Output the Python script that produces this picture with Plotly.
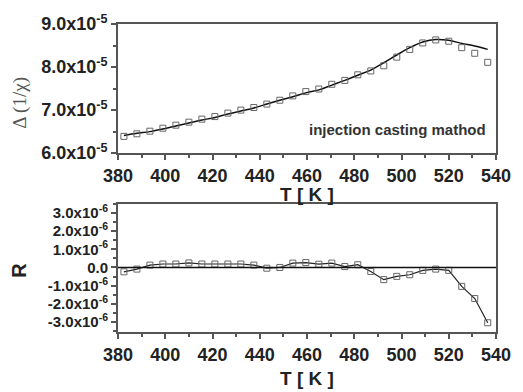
import plotly.graph_objects as go

T = [382.5, 388.0, 393.5, 399.0, 404.5, 410.0, 415.5, 421.0, 426.5, 432.0,
     437.5, 443.0, 448.5, 454.0, 459.5, 465.0, 470.5, 476.0, 481.5, 487.0,
     492.5, 498.0, 503.5, 509.0, 514.5, 520.0, 525.5, 531.0, 536.5]

# Delta(1/chi) data, units of 1e-5
inv_chi = [6.39, 6.45, 6.51, 6.58, 6.65, 6.72, 6.79, 6.85, 6.93, 7.00,
           7.06, 7.14, 7.23, 7.33, 7.43, 7.49, 7.60, 7.69, 7.82, 7.91,
           8.03, 8.23, 8.41, 8.56, 8.63, 8.60, 8.45, 8.32, 8.11]
# fit curve, units of 1e-5
fit = [6.41, 6.46, 6.50, 6.56, 6.63, 6.70, 6.77, 6.83, 6.91, 6.98,
       7.05, 7.14, 7.23, 7.31, 7.40, 7.47, 7.58, 7.69, 7.81, 7.93,
       8.10, 8.28, 8.45, 8.58, 8.64, 8.62, 8.55, 8.49, 8.41]
# residual R, units of 1e-6
resid = [-0.24, -0.09, 0.13, 0.19, 0.19, 0.25, 0.19, 0.19, 0.19, 0.19,
         0.13, -0.04, 0.00, 0.24, 0.27, 0.18, 0.24, 0.05, 0.15, -0.22,
         -0.67, -0.49, -0.40, -0.16, -0.09, -0.16, -1.04, -1.71, -3.04]

x_ticks = [380, 400, 420, 440, 460, 480, 500, 520, 540]
top_tickvals = [6.0e-5, 7.0e-5, 8.0e-5, 9.0e-5]
top_ticktext = ["6.0x10<sup>-5</sup>", "7.0x10<sup>-5</sup>", "8.0x10<sup>-5</sup>", "9.0x10<sup>-5</sup>"]
bot_tickvals = [-3e-6, -2e-6, -1e-6, 0, 1e-6, 2e-6, 3e-6]
bot_ticktext = ["-3.0x10<sup>-6</sup>", "-2.0x10<sup>-6</sup>", "-1.0x10<sup>-6</sup>", "0.0",
                "1.0x10<sup>-6</sup>", "2.0x10<sup>-6</sup>", "3.0x10<sup>-6</sup>"]

W, H = 523, 392
ML, MR, MT, MB = 118, 18, 22, 60
PW, PH = W - ML - MR, H - MT - MB

def py(p):
    return (H - MB - p) / PH

def px(p):
    return (p - ML) / PW

fig = go.Figure()
fig.add_trace(go.Scatter(x=T, y=[v * 1e-5 for v in fit], mode="lines", line=dict(color="#111", width=1.5, shape="spline"),
                         xaxis="x", yaxis="y", showlegend=False))
fig.add_trace(go.Scatter(x=T, y=[v * 1e-5 for v in inv_chi], mode="markers",
                         marker=dict(symbol="square-open", size=6, color="#666", line=dict(width=1)),
                         xaxis="x", yaxis="y", showlegend=False))
fig.add_trace(go.Scatter(x=T, y=[v * 1e-6 for v in resid], mode="lines+markers",
                         line=dict(color="#222", width=1.2),
                         marker=dict(symbol="square-open", size=6, color="#666", line=dict(width=1)),
                         xaxis="x2", yaxis="y2", showlegend=False))

axis_common = dict(showline=True, linecolor="#555", linewidth=2, mirror=True, ticks="outside",
                   ticklen=5, tickwidth=1.5, tickcolor="#555", showgrid=False, zeroline=False)

fig.update_layout(
    width=W, height=H, margin=dict(l=ML, r=MR, t=MT, b=MB),
    paper_bgcolor="white", plot_bgcolor="white",
    xaxis=dict(domain=[0, 1], anchor="y", range=[380, 540], tickvals=x_ticks,
               tickfont=dict(family="Liberation Sans, Arial", size=18, color="#222"),
               minor=dict(ticks="outside", ticklen=3, tickcolor="#555", dtick=10, tick0=380),
               **axis_common),
    yaxis=dict(domain=[py(152), 1], anchor="x", range=[6.0e-5, 9.0e-5], tickvals=top_tickvals,
               ticktext=top_ticktext, tickfont=dict(family="Liberation Sans, Arial", size=18, color="#222"),
               minor=dict(ticks="outside", ticklen=3, tickcolor="#555", dtick=0.5e-5, tick0=6.0e-5),
               **axis_common),
    xaxis2=dict(domain=[0, 1], anchor="y2", range=[380, 540], tickvals=x_ticks,
                tickfont=dict(family="Liberation Sans, Arial", size=18, color="#222"),
                minor=dict(ticks="outside", ticklen=3, tickcolor="#555", dtick=10, tick0=380),
                **axis_common),
    yaxis2=dict(domain=[0, py(203)], anchor="x2", range=[-3.55e-6, 3.5e-6], tickvals=bot_tickvals,
                ticktext=bot_ticktext, tickfont=dict(family="Liberation Sans, Arial", size=15, color="#222"),
                minor=dict(ticks="outside", ticklen=3, tickcolor="#555", dtick=0.5e-6, tick0=0),
                **axis_common),
)
fig.update_yaxes(tickfont_weight="bold")
fig.update_xaxes(tickfont_weight="bold")

# zero line in residual panel
fig.add_shape(type="line", xref="x2 domain", yref="y2", x0=0, x1=1, y0=0, y1=0,
              line=dict(color="#111", width=1.5))

ann = [
    dict(text="injection casting mathod", x=px(497), y=py(128), xanchor="right", yanchor="middle",
         font=dict(family="Liberation Sans, Arial", size=15, color="#333", weight="bold")),
    dict(text="Δ (1/χ)", x=px(18), y=py(101), xanchor="center", yanchor="middle", textangle=-90,
         font=dict(family="Liberation Serif, Times New Roman", size=19, color="#555")),
    dict(text="R", x=px(17), y=py(270), xanchor="center", yanchor="middle", textangle=-90,
         font=dict(family="Liberation Sans, Arial", size=20, color="#222", weight="bold")),
    dict(text="T [ K ]", x=px(311), y=py(194), xanchor="center", yanchor="middle",
         font=dict(family="Liberation Sans, Arial", size=19, color="#222", weight="bold")),
    dict(text="T [ K ]", x=px(311), y=py(379), xanchor="center", yanchor="middle",
         font=dict(family="Liberation Sans, Arial", size=19, color="#222", weight="bold")),
]
for a in ann:
    fig.add_annotation(xref="paper", yref="paper", showarrow=False, **a)

fig.write_html("out.html")
